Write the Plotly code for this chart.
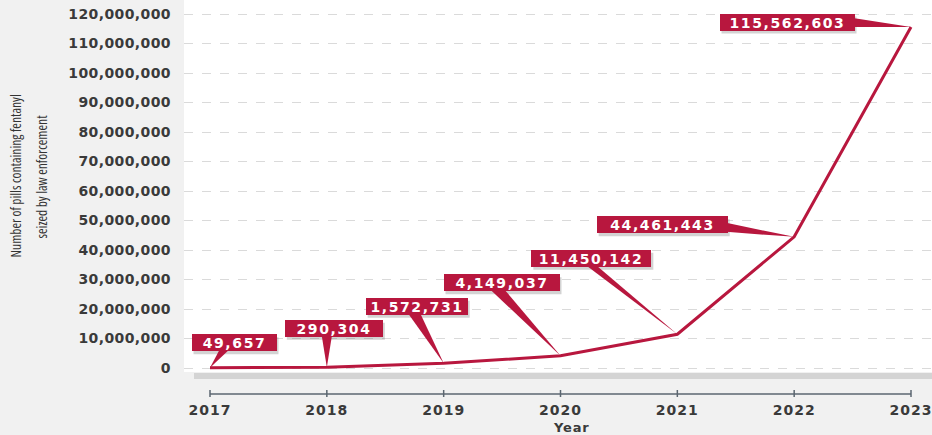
import plotly.graph_objects as go

# Fentanyl pills seized by law enforcement, by year
years = [2017, 2018, 2019, 2020, 2021, 2022, 2023]
pills = [49657, 290304, 1572731, 4149037, 11450142, 44461443, 115562603]
y_ticks = [i * 10_000_000 for i in range(13)]

RED = "#b8173e"
TXT = "#3a3a3a"
BOLD = dict(family="DejaVu Sans", size=14, color=TXT, weight="bold")
NARROW = dict(family="Open Sans", size=13.5, color="#333")

# callout placement: box centre offset from its point (px, y down), box width,
# and the two base corners of the pointer wedge relative to the box centre
callouts = [
    dict(ax=23, ay=-25, w=85, base=[(-14, 8), (-5, 8)]),
    dict(ax=6, ay=-39, w=98, base=[(-11, 8), (-1, 8)]),
    dict(ax=-28, ay=-57, w=102, base=[(-7, 8), (5, 8)]),
    dict(ax=-60, ay=-73, w=116, base=[(-9, 8), (5, 8)]),
    dict(ax=-87, ay=-76, w=120, base=[(-3, 8), (7, 8)]),
    dict(ax=-133, ay=-12, w=131, base=[(65, -2), (65, 7)]),
    dict(ax=-125, ay=-5, w=135, base=[(67, -4), (67, 5)]),
]
BOX_H = 17


def condensed(s):
    return f'<span style="font-stretch:75%">{s}</span>'


def spaced(s, px):
    return f'<span style="letter-spacing:{px}px">{s}</span>'


fig = go.Figure()
fig.add_trace(go.Scatter(
    x=years, y=pills, mode="lines",
    line=dict(color=RED, width=3), hoverinfo="skip",
))

shapes = [
    # grey band under the plot area
    dict(type="rect", xref="x domain", x0=0.0134, x1=1,
         yref="y domain", ysizemode="pixel", yanchor=0, y0=-1, y1=-7,
         fillcolor="#d4d4d4", line=dict(width=0), layer="below"),
    # year axis line
    dict(type="line", xref="x", x0=years[0], x1=years[-1],
         yref="paper", y0=0, y1=0, line=dict(color="#5b6670", width=1.5)),
]
for yr in years:
    shapes.append(dict(type="line", xref="x", x0=yr, x1=yr,
                       yref="paper", ysizemode="pixel", yanchor=0, y0=-3, y1=4,
                       line=dict(color="#5b6670", width=1.5)))

annotations = []
for yr, v, c in zip(years, pills, callouts):
    # drop shadow behind the callout box
    cx, cy = c["ax"] + 3, -(c["ay"] + 3)
    shapes.append(dict(
        type="rect", xref="x", yref="y",
        xsizemode="pixel", ysizemode="pixel", xanchor=yr, yanchor=v,
        x0=cx - c["w"] / 2, x1=cx + c["w"] / 2,
        y0=cy - BOX_H / 2, y1=cy + BOX_H / 2,
        fillcolor="rgba(120,120,120,0.33)", line=dict(width=0), layer="above",
    ))
    # pointer wedge from the box to the point
    (b1x, b1y), (b2x, b2y) = c["base"]
    p1 = (c["ax"] + b1x, -(c["ay"] + b1y))
    p2 = (c["ax"] + b2x, -(c["ay"] + b2y))
    shapes.append(dict(
        type="path", xref="x", yref="y",
        xsizemode="pixel", ysizemode="pixel", xanchor=yr, yanchor=v,
        path=f"M0,0 L{p1[0]},{p1[1]} L{p2[0]},{p2[1]} Z",
        fillcolor=RED, line=dict(width=0), layer="above",
    ))
    annotations.append(dict(
        x=yr, y=v, ax=c["ax"], ay=c["ay"], showarrow=True,
        arrowcolor="rgba(0,0,0,0)", text=spaced(f"{v:,}", 1.6),
        width=c["w"], height=BOX_H, xshift=1,
        bgcolor=RED, borderpad=0, borderwidth=0,
        font=dict(family="DejaVu Sans", size=14, color="white", weight="bold"),
    ))

# axis titles
annotations += [
    dict(text=condensed("Number of pills containing fentanyl"), textangle=-90,
         xref="paper", yref="paper", x=0, y=0.552, xshift=-168,
         xanchor="center", yanchor="middle", showarrow=False, font=NARROW),
    dict(text=condensed("seized by law enforcement"), textangle=-90,
         xref="paper", yref="paper", x=0, y=0.552, xshift=-142,
         xanchor="center", yanchor="middle", showarrow=False, font=NARROW),
    dict(text=spaced("Year", 0.8), xref="paper", yref="paper", x=0.5174, y=-0.084,
         xanchor="center", yanchor="middle", showarrow=False,
         font=dict(family="DejaVu Sans", size=13, color=TXT, weight="bold")),
]

fig.update_layout(
    width=932, height=435,
    margin=dict(l=184, r=0, t=0, b=41, autoexpand=False),
    paper_bgcolor="#f1f1f1", plot_bgcolor="white",
    showlegend=False,
    xaxis=dict(
        range=[2016.7775, 2023.1797], domain=[0, 1],
        anchor="free", position=0, automargin=False,
        tickvals=years, ticktext=[spaced(str(y), 1) for y in years],
        ticks="outside", ticklen=3, tickcolor="rgba(0,0,0,0)",
        ticklabeloverflow="allow",
        tickfont=BOLD, showgrid=False, zeroline=False, showline=False,
    ),
    yaxis=dict(
        range=[-1_356_000, 124_746_000], domain=[0.0558, 1], automargin=False,
        tickvals=y_ticks, ticktext=[spaced(f"{t:,}", 0.4) for t in y_ticks],
        tickfont=BOLD, ticklabelstandoff=12,
        showgrid=True, gridcolor="#dadada", griddash="dash", gridwidth=1,
        zeroline=False, showline=False,
    ),
    shapes=shapes,
    annotations=annotations,
)

fig.write_html("out.html")
